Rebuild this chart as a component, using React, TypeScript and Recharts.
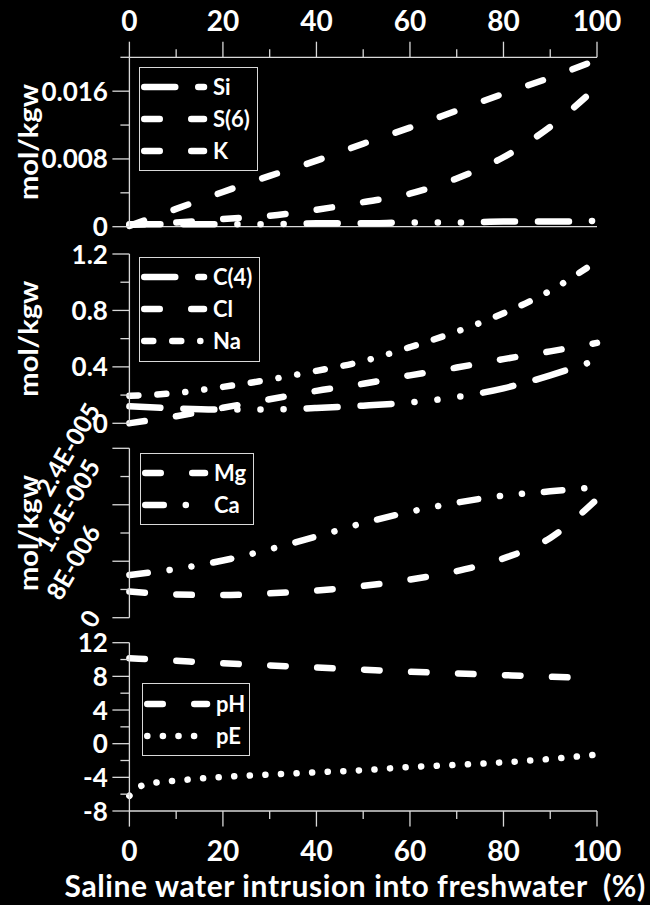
import React from "react";
import { LineChart, Line, XAxis, YAxis, Legend, ReferenceLine } from "recharts";

const FONT = "Lato, 'Noto Sans', sans-serif";
const AXIS_COLOR = "#d9d9d9";
const LINE_W = 6.5;
const CHART_W = 650;
const CHART_H = 905;

// share of saline water in the mix (%)
const PCT = [0, 10, 20, 30, 40, 50, 60, 70, 80, 90, 100];
const PCT_PH = [0, 2, 5, 10, 20, 30, 40, 50, 60, 70, 80, 90, 100];

// panel 1 (mol/kgw)
const SI = [0.0003, 0.0003, 0.0003, 0.0003, 0.0004, 0.0004, 0.0005, 0.0005, 0.0006, 0.0006, 0.0007];
const S6 = [0.0001, 0.0021, 0.0041, 0.006, 0.0078, 0.0098, 0.0117, 0.0137, 0.0157, 0.0176, 0.0197];
const K = [0.0002, 0.0005, 0.0009, 0.0013, 0.002, 0.0029, 0.0039, 0.0057, 0.0082, 0.0118, 0.0165];

// panel 2 (mol/kgw)
const C4 = [0.12, 0.105, 0.097, 0.098, 0.108, 0.125, 0.148, 0.186, 0.248, 0.34, 0.45];
const CL = [0, 0.05, 0.11, 0.17, 0.23, 0.28, 0.34, 0.395, 0.455, 0.51, 0.57];
const NA = [0.195, 0.215, 0.258, 0.31, 0.372, 0.44, 0.54, 0.65, 0.78, 0.94, 1.15];

// panel 3 (mol/kgw)
const MG = [3.7e-6, 3.3e-6, 3.2e-6, 3.45e-6, 3.85e-6, 4.5e-6, 5.4e-6, 6.6e-6, 8.4e-6, 11.3e-6, 16.8e-6];
const CA = [6.05e-6, 6.9e-6, 8.1e-6, 9.7e-6, 11.5e-6, 13.4e-6, 15.0e-6, 16.3e-6, 17.3e-6, 17.9e-6, 18.5e-6];

// panel 4
const PH = [10.15, 10.1, 10.0, 9.85, 9.55, 9.3, 9.05, 8.8, 8.55, 8.35, 8.15, 7.95, 7.78];
const PE = [-6.2, -5.15, -4.7, -4.4, -3.95, -3.68, -3.41, -3.15, -2.78, -2.52, -2.22, -1.82, -1.3];

const X_TICKS = [0, 10, 20, 30, 40, 50, 60, 70, 80, 90, 100];
const X_LABELS = ["0", "", "20", "", "40", "", "60", "", "80", "", "100"];

const Y1_TICKS = [0, 0.004, 0.008, 0.012, 0.016, 0.02];
const Y1_LABELS = ["0", "", "0.008", "", "0.016", ""];
const Y2_TICKS = [0, 0.2, 0.4, 0.6, 0.8, 1.0, 1.2];
const Y2_LABELS = ["0", "", "0.4", "", "0.8", "", "1.2"];
const Y3_TICKS = [0, 4e-6, 8e-6, 1.2e-5, 1.6e-5, 2e-5, 2.4e-5];
const Y3_LABELS = ["0", "", "8E-006", "", "1.6E-005", "", "2.4E-005"];
const Y4_TICKS = [-8, -6, -4, -2, 0, 2, 4, 6, 8, 10, 12];
const Y4_LABELS = ["-8", "", "-4", "", "0", "", "4", "", "8", "", "12"];

// excel-like dash styles (round caps add the stroke width to each dash)
const LONG_DASH_DOTS = "31 23 31 23 0.1 23 0.1 23 0.1 23";
const DASH = "15.5 31.5";
const DASH_DASH_DOTS = "9 19 9 19 0.1 19 0.1 19";
const DASH_DOTS = "18.5 22 0.1 22 0.1 22";
const DOTS = "0.1 15.5";

type Series = { key: string; name: string; values: number[]; dash: string };
type Box = { left: number; top: number; width: number; height: number; row0: number };

const textStyle = { fill: "#fff", fontFamily: FONT, fontWeight: 700 } as const;

function labelAt(ticks: number[], labels: string[], v: number) {
  const i = ticks.findIndex((t) => Math.abs(t - v) < Math.abs(ticks[1] - ticks[0]) / 100);
  return i < 0 ? "" : labels[i];
}

function textLen(s: string, fs: number) {
  let w = 0;
  for (const c of s) w += c === "." ? 0.26 : c === "-" ? 0.37 : c === "E" ? 0.56 : 0.58;
  return w * fs;
}

const yTick = (ticks: number[], labels: string[], rotated: boolean) => (p: any) => {
  const { x, y, payload } = p;
  const label = labelAt(ticks, labels, payload.value);
  const major = label !== "";
  let txt = null;
  if (major && !rotated) {
    txt = (
      <text x={x - 21.5} y={y + 9.5} textAnchor="end" fontSize={26} {...textStyle}>
        {label}
      </text>
    );
  } else if (major) {
    const rfs = 25;
    const half = (textLen(label, rfs) * 0.5 + rfs * 0.72 * 0.866) / 2;
    const cx = x - 28 - half;
    const cy = y + 1;
    txt = (
      <text
        x={cx}
        y={cy}
        dy="0.36em"
        textAnchor="middle"
        transform={`rotate(-60 ${cx} ${cy})`}
        fontSize={rfs}
        {...textStyle}
      >
        {label}
      </text>
    );
  }
  return (
    <g>
      <line x1={x - (major ? 17 : 9)} x2={x} y1={y} y2={y} stroke={AXIS_COLOR} strokeWidth={1.3} />
      {txt}
    </g>
  );
};

const xTick = (side: "top" | "bottom") => (p: any) => {
  const { x, y, payload } = p;
  const label = labelAt(X_TICKS, X_LABELS, payload.value);
  const major = label !== "";
  const len = major ? 15.6 : 8;
  const dir = side === "top" ? -1 : 1;
  return (
    <g>
      <line x1={x} x2={x} y1={y} y2={y + dir * len} stroke={AXIS_COLOR} strokeWidth={1.3} />
      {major && (
        <text x={x} y={side === "top" ? y - 26.6 : y + 49.5} textAnchor="middle" fontSize={28} {...textStyle}>
          {label}
        </text>
      )}
    </g>
  );
};

const YTitle = (props: any) => {
  const vb = props.viewBox || {};
  const cx = (vb.x ?? 0) + 28;
  const cy = (vb.y ?? 0) + (vb.height ?? 0) / 2;
  return (
    <text
      x={cx}
      y={cy}
      dy="0.36em"
      textAnchor="middle"
      transform={`rotate(-90 ${cx} ${cy})`}
      fontSize={27}
      textLength={116}
      lengthAdjust="spacingAndGlyphs"
      {...textStyle}
    >
      {props.text}
    </text>
  );
};

const XTitle = (props: any) => {
  const vb = props.viewBox || {};
  const cx = (vb.x ?? 0) + (vb.width ?? 0) / 2 - 8;
  const y = (vb.y ?? 0) + 85.5;
  return (
    <text
      x={cx}
      y={y}
      textAnchor="middle"
      fontSize={30}
      letterSpacing={0.6}
      style={{ whiteSpace: "pre" }}
      {...textStyle}
    >
      {props.text}
    </text>
  );
};

const legendContent = (series: Series[], box: Box) => (props: any) => {
  const payload: any[] = props.payload ?? [];
  return (
    <svg width={box.width} height={box.height} style={{ display: "block", overflow: "visible" }}>
      <rect x={0.5} y={0.5} width={box.width - 1} height={box.height - 1} fill="none" stroke={AXIS_COLOR} strokeWidth={1} />
      {series.map((s, i) => {
        const item = payload.find((p) => p.dataKey === s.key);
        const cy = box.row0 + i * 32;
        return (
          <g key={s.key}>
            <line
              x1={5.25}
              x2={65}
              y1={cy}
              y2={cy}
              stroke="#fff"
              strokeWidth={LINE_W}
              strokeLinecap="round"
              strokeDasharray={s.dash}
            />
            <text x={74} y={cy} dy="0.36em" fontSize={22} {...textStyle}>
              {item ? item.value : s.name}
            </text>
          </g>
        );
      })}
    </svg>
  );
};

type PanelProps = {
  xs: number[];
  series: Series[];
  top: number;
  bottom: number;
  yDomain: [number, number];
  yTicks: number[];
  yLabels: string[];
  rotatedY?: boolean;
  xAxis: "top" | "bottom" | "none";
  yTitle?: string;
  legend: Box;
};

function Panel({ xs, series, top, bottom, yDomain, yTicks, yLabels, rotatedY, xAxis, yTitle, legend }: PanelProps) {
  const rows = xs.map((x, i) => {
    const r: Record<string, number> = { x };
    series.forEach((s) => (r[s.key] = s.values[i]));
    return r;
  });
  const xH = xAxis === "top" ? 30 : xAxis === "bottom" ? 60 : 0;
  return (
    <div style={{ position: "absolute", left: 0, top: 0 }}>
      <LineChart
        width={CHART_W}
        height={CHART_H}
        data={rows}
        margin={{
          top: xAxis === "top" ? top - xH : top,
          right: 53,
          bottom: xAxis === "bottom" ? CHART_H - bottom - xH : CHART_H - bottom,
          left: 0,
        }}
      >
        <XAxis
          type="number"
          dataKey="x"
          domain={[0, 100]}
          ticks={X_TICKS}
          interval={0}
          orientation={xAxis === "top" ? "top" : "bottom"}
          height={xH}
          axisLine={{ stroke: AXIS_COLOR, strokeWidth: 1.3 }}
          tickLine={false}
          tickSize={0}
          tickMargin={0}
          tick={xAxis === "none" ? false : xTick(xAxis)}
          label={xAxis === "bottom" ? <XTitle text={"Saline water intrusion into freshwater  (%)"} /> : undefined}
        />
        <YAxis
          type="number"
          domain={yDomain}
          ticks={yTicks}
          interval={0}
          width={129.4}
          axisLine={{ stroke: AXIS_COLOR, strokeWidth: 1.3 }}
          tickLine={false}
          tickSize={0}
          tickMargin={0}
          tick={yTick(yTicks, yLabels, !!rotatedY)}
          label={yTitle ? <YTitle text={yTitle} /> : undefined}
        />
        {xAxis === "top" && <ReferenceLine y={yDomain[0]} stroke={AXIS_COLOR} strokeWidth={1.3} />}
        {series.map((s) => (
          <Line
            key={s.key}
            type="monotone"
            dataKey={s.key}
            name={s.name}
            stroke="#fff"
            strokeWidth={LINE_W}
            strokeDasharray={s.dash}
            strokeLinecap="round"
            strokeLinejoin="round"
            dot={false}
            activeDot={false}
            isAnimationActive={false}
          />
        ))}
        <Legend
          layout="horizontal"
          verticalAlign="middle"
          align="center"
          wrapperStyle={{ left: legend.left, top: legend.top, width: legend.width, height: legend.height }}
          content={legendContent(series, legend)}
        />
      </LineChart>
    </div>
  );
}

export default function App() {
  return (
    <div style={{ position: "absolute", left: 0, top: 0, width: CHART_W, height: CHART_H, background: "#000", overflow: "hidden" }}>
      <Panel
        xs={PCT}
        top={57.3}
        bottom={226.7}
        yDomain={[0, 0.02]}
        yTicks={Y1_TICKS}
        yLabels={Y1_LABELS}
        xAxis="top"
        yTitle="mol/kgw"
        legend={{ left: 139, top: 67, width: 119, height: 104, row0: 20 }}
        series={[
          { key: "si", name: "Si", values: SI, dash: LONG_DASH_DOTS },
          { key: "s6", name: "S(6)", values: S6, dash: DASH },
          { key: "k", name: "K", values: K, dash: DASH },
        ]}
      />
      <Panel
        xs={PCT}
        top={254}
        bottom={423.3}
        yDomain={[0, 1.2]}
        yTicks={Y2_TICKS}
        yLabels={Y2_LABELS}
        xAxis="none"
        yTitle="mol/kgw"
        legend={{ left: 139, top: 257, width: 121, height: 105, row0: 20 }}
        series={[
          { key: "c4", name: "C(4)", values: C4, dash: LONG_DASH_DOTS },
          { key: "cl", name: "Cl", values: CL, dash: DASH },
          { key: "na", name: "Na", values: NA, dash: DASH_DASH_DOTS },
        ]}
      />
      <Panel
        xs={PCT}
        top={448.3}
        bottom={617.7}
        yDomain={[0, 2.4e-5]}
        yTicks={Y3_TICKS}
        yLabels={Y3_LABELS}
        rotatedY
        xAxis="none"
        yTitle="mol/kgw"
        legend={{ left: 140, top: 453, width: 114, height: 72, row0: 20 }}
        series={[
          { key: "mg", name: "Mg", values: MG, dash: DASH },
          { key: "ca", name: "Ca", values: CA, dash: DASH_DOTS },
        ]}
      />
      <Panel
        xs={PCT_PH}
        top={642.7}
        bottom={811}
        yDomain={[-8, 12]}
        yTicks={Y4_TICKS}
        yLabels={Y4_LABELS}
        xAxis="bottom"
        legend={{ left: 142, top: 683, width: 108, height: 73, row0: 21 }}
        series={[
          { key: "ph", name: "pH", values: PH, dash: DASH },
          { key: "pe", name: "pE", values: PE, dash: DOTS },
        ]}
      />
    </div>
  );
}
